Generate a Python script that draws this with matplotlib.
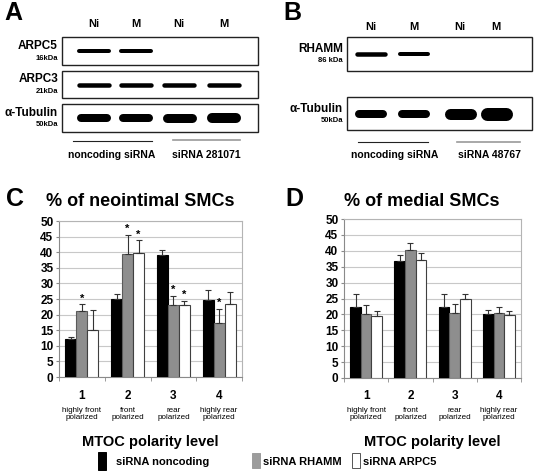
import numpy as np
import matplotlib.pyplot as plt
from matplotlib.patches import Rectangle
from matplotlib.transforms import blended_transform_factory

plt.rcParams['font.family'] = ['Liberation Sans', 'DejaVu Sans']
plt.rcParams['font.weight'] = 'bold'

# ---- chart data ----
levels = ["1", "2", "3", "4"]
level_names = ["highly front\npolarized", "front\npolarized",
               "rear\npolarized", "highly rear\npolarized"]
series_names = ["siRNA noncoding", "siRNA RHAMM", "siRNA ARPC5"]

# C: % of neointimal SMCs
neo_noncoding = [12.2, 25.0, 39.1, 24.8]
neo_rhamm = [21.0, 39.3, 23.0, 17.3]
neo_arpc5 = [15.2, 39.8, 23.0, 23.5]
neo_noncoding_err = [0.6, 1.7, 1.7, 3.0]
neo_rhamm_err = [2.3, 6.2, 2.9, 4.5]
neo_arpc5_err = [6.4, 4.0, 1.4, 3.6]
neo_rhamm_sig = [True, True, True, True]
neo_arpc5_sig = [False, True, True, False]

# D: % of medial SMCs
med_noncoding = [22.2, 36.7, 22.2, 20.0]
med_rhamm = [20.0, 40.3, 20.3, 20.5]
med_arpc5 = [19.4, 37.0, 24.7, 19.7]
med_noncoding_err = [4.1, 2.1, 4.1, 1.5]
med_rhamm_err = [2.9, 2.2, 3.0, 1.7]
med_arpc5_err = [1.6, 2.3, 1.8, 1.3]
no_sig = [False, False, False, False]

# western blots: band present per lane (Ni, M, Ni, M)
lanes = ["Ni", "M", "Ni", "M"]
blot_a_rows = ["ARPC5", "ARPC3", "α-Tubulin"]
blot_a_kda = ["16kDa", "21kDa", "50kDa"]
blot_a_bands = [[1, 1, 0, 0], [1, 1, 1, 1], [1, 1, 1, 1]]
blot_a_groups = ["noncoding siRNA", "siRNA 281071"]
blot_b_rows = ["RHAMM", "α-Tubulin"]
blot_b_kda = ["86 kDa", "50kDa"]
blot_b_bands = [[1, 1, 0, 0], [1, 1, 1, 1]]
blot_b_groups = ["noncoding siRNA", "siRNA 48767"]

W, H = 535, 475
fig = plt.figure(figsize=(W / 100, H / 100), dpi=100)
bg = fig.add_axes([0, 0, 1, 1], zorder=0)
bg.set_xlim(0, W)
bg.set_ylim(H, 0)
bg.axis("off")

BAR_COLORS = ["#000000", "#8e8e8e", "#ffffff"]
EDGE_COLORS = ["#000000", "#5a5a5a", "#404040"]


def blot(x0, x1, boxes, lane_x, rows, kdas, bands, thick, half_w):
    for (y0, y1), name, kda, pres, th in zip(boxes, rows, kdas, bands, thick):
        bg.add_patch(Rectangle((x0, y0), x1 - x0, y1 - y0, fill=False,
                               ec="#222222", lw=1.0))
        yc = (y0 + y1) / 2
        bg.text(x0 - 4, yc - 5, name, ha="right", va="center", fontsize=8.5)
        bg.text(x0 - 4, yc + 7, kda, ha="right", va="center", fontsize=5.5)
        for lx, p, t in zip(lane_x, pres, th):
            if p:
                bg.plot([lx - half_w + t / 2, lx + half_w - t / 2], [yc, yc],
                        color="black", lw=t * 0.72, solid_capstyle="round")


# ---- panel A ----
bg.text(13, 13, "A", ha="center", va="center", fontsize=18)
lane_a = [94, 136, 179, 224]
for lx, lab in zip(lane_a, lanes):
    bg.text(lx, 24, lab, ha="center", va="center", fontsize=8)
blot(62, 258, [(37, 65), (71, 98), (104, 132)], lane_a, blot_a_rows,
     blot_a_kda, blot_a_bands,
     [[4, 4, 4, 4], [4.5, 4.5, 4.5, 4.5], [8, 8, 9, 10]], 17)
bg.plot([73, 152], [141, 141], color="#222222", lw=0.8)
bg.plot([173, 240], [140, 140], color="#999999", lw=1.2)
bg.text(112, 155, blot_a_groups[0], ha="center", va="center", fontsize=7.5)
bg.text(206, 155, blot_a_groups[1], ha="center", va="center", fontsize=7.5)

# ---- panel B ----
bg.text(292, 13, "B", ha="center", va="center", fontsize=18)
lane_b = [371, 414, 460, 496]
for lx, lab in zip(lane_b, lanes):
    bg.text(lx, 27, lab, ha="center", va="center", fontsize=8)
blot(347, 532, [(37, 71), (97, 130)], lane_b, blot_b_rows,
     blot_b_kda, blot_b_bands,
     [[4.5, 4, 0, 0], [8, 8, 11, 13]], 16)
bg.plot([358, 428], [142, 142], color="#222222", lw=0.8)
bg.plot([457, 520], [142, 142], color="#999999", lw=1.2)
bg.text(395, 155, blot_b_groups[0], ha="center", va="center", fontsize=7.5)
bg.text(490, 155, blot_b_groups[1], ha="center", va="center", fontsize=7.5)


def bar_panel(rect, title, letter, letter_x, title_x, vals, errs, sigs):
    ax = fig.add_axes(rect, zorder=2)
    x = np.arange(len(levels))
    w = 0.24
    for i, (v, e, s) in enumerate(zip(vals, errs, sigs)):
        xs = x + (i - 1) * w
        ax.bar(xs, v, w, color=BAR_COLORS[i], edgecolor=EDGE_COLORS[i],
               lw=0.8, zorder=3)
        ax.errorbar(xs, v, yerr=[np.zeros(len(e)), e], fmt="none",
                    ecolor="#333333", elinewidth=0.8, capsize=2.2,
                    capthick=0.8, zorder=4)
        for xi, vi, ei, si in zip(xs, v, e, s):
            if si:
                ax.text(xi, vi + ei + 0.3, "*", ha="center", va="bottom",
                        fontsize=8, zorder=5)
    ax.set_ylim(0, 50)
    ax.set_xlim(-0.5, 3.5)
    ax.set_yticks(np.arange(0, 51, 5))
    ax.yaxis.grid(True, color="#c8c8c8", lw=0.8)
    ax.set_axisbelow(True)
    for sp in ax.spines.values():
        sp.set_color("#b4b4b4")
        sp.set_linewidth(0.8)
    ax.spines["left"].set_color("#8a8a8a")
    ax.spines["bottom"].set_color("#8a8a8a")
    ax.set_xticks(x)
    ax.set_xticklabels([])
    ax.set_xticks(np.arange(-0.5, 3.6, 1), minor=True)
    ax.tick_params(axis="x", which="major", length=0)
    ax.tick_params(axis="x", which="minor", length=3, color="#8a8a8a")
    ax.tick_params(axis="y", length=2, color="#8a8a8a", labelsize=8.5,
                   pad=2)
    for lb in ax.get_yticklabels():
        lb.set_fontweight("bold")
    tr = blended_transform_factory(ax.transData, bg.transData)
    for xi, num, name in zip(x, levels, level_names):
        ax.text(xi, 396, num, transform=tr, ha="center", va="center",
                fontsize=8.5)
        ax.text(xi, 414, name, transform=tr, ha="center", va="center",
                fontsize=5.8, fontweight="normal", linespacing=1.1)
    bg.text(letter_x, 199, letter, ha="center", va="center", fontsize=18)
    bg.text(title_x, 201, title, ha="center", va="center", fontsize=13)
    bg.text((rect[0] + rect[2] / 2) * W, 442, "MTOC polarity level",
            ha="center", va="center", fontsize=10.5)
    return ax


bar_panel([59 / W, 1 - 377 / H, (242 - 59) / W, 156 / H],
          "% of neointimal SMCs", "C", 15, 140,
          [neo_noncoding, neo_rhamm, neo_arpc5],
          [neo_noncoding_err, neo_rhamm_err, neo_arpc5_err],
          [no_sig, neo_rhamm_sig, neo_arpc5_sig])
bar_panel([344 / W, 1 - 378 / H, (521 - 344) / W, 159 / H],
          "% of medial SMCs", "D", 294, 422,
          [med_noncoding, med_rhamm, med_arpc5],
          [med_noncoding_err, med_rhamm_err, med_arpc5_err],
          [no_sig, no_sig, no_sig])

# ---- legend ----
leg_boxes = [(98, 452, 8, 18, "#000000", "#000000"),
             (252, 453, 8, 15, "#9c9c9c", "#9c9c9c"),
             (352, 453, 8, 15, "#ffffff", "#555555")]
leg_text_x = [116, 263, 363]
for (sx, sy, sw, sh, fc, ec), tx, name in zip(leg_boxes, leg_text_x, series_names):
    bg.add_patch(Rectangle((sx, sy), sw, sh, fc=fc, ec=ec, lw=0.7))
    bg.text(tx, 462, name, ha="left", va="center", fontsize=8)

fig.savefig("out.png", dpi=100)
